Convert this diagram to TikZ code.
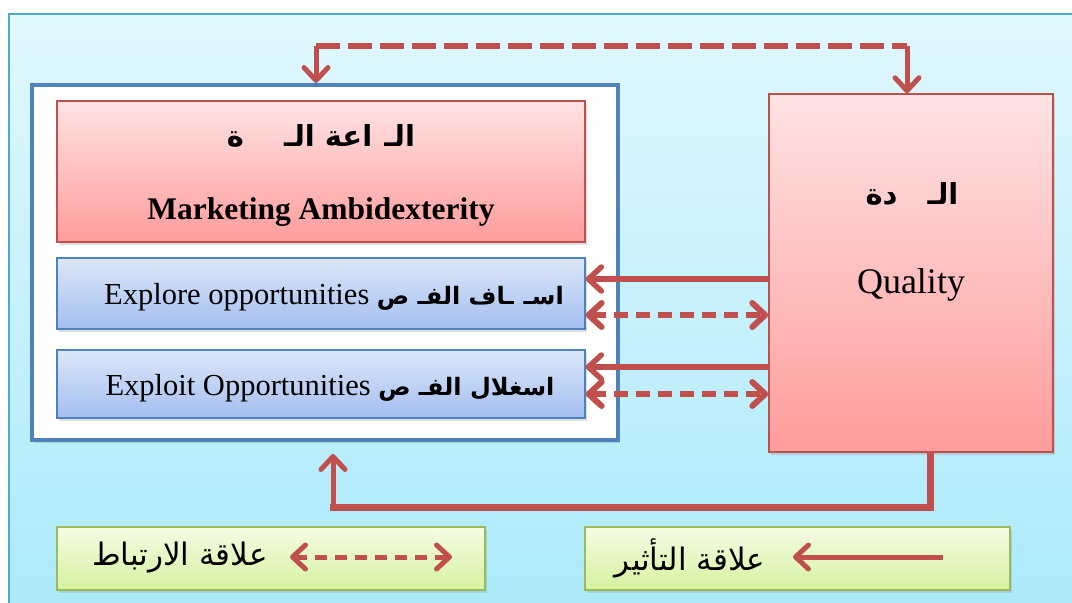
\documentclass[tikz,border=0pt]{standalone}
\usepackage{fontspec}
\setmainfont{Liberation Serif}
\newfontfamily\arabicfont[Script=Arabic]{DejaVu Sans}
\TeXXeTstate=1
\usetikzlibrary{arrows.meta,shadows,calc}
\definecolor{arrowred}{HTML}{C0504D}
\definecolor{blueline}{HTML}{4F81BD}
\definecolor{bgtop}{HTML}{E2F8FE}
\definecolor{bgbot}{HTML}{ACEAFA}
\definecolor{bgline}{HTML}{4BACC6}
\definecolor{redtop}{HTML}{FFE3E3}
\definecolor{redbot}{HTML}{FF9C9C}
\definecolor{bluetop}{HTML}{DCE7F9}
\definecolor{bluebot}{HTML}{A4BEF0}
\definecolor{greentop}{HTML}{F5FCE6}
\definecolor{greenbot}{HTML}{D5F29E}
\definecolor{greenline}{HTML}{9BBB59}
\tikzset{
  shad/.style={drop shadow={shadow xshift=2pt,shadow yshift=-3pt,opacity=0.25}},
  framebox/.style={draw=blueline,line width=4pt,fill=white,minimum width=586pt,minimum height=355pt,inner sep=0pt,shad},
  redbox/.style={draw=arrowred,line width=1.5pt,top color=redtop,bottom color=redbot,inner sep=0pt,shad},
  bluebox/.style={draw=blueline,line width=1.2pt,top color=bluetop,bottom color=bluebot,minimum width=528pt,inner sep=0pt,shad},
  greenbox/.style={draw=greenline,line width=2pt,top color=greentop,bottom color=greenbot,minimum height=63pt,inner sep=0pt,shad},
  tip/.style={arrows={-Straight Barb[length=13pt,width=24pt,line cap=round,line join=round]}},
  tips/.style={arrows={Straight Barb[length=13pt,width=24pt,line cap=round,line join=round]-Straight Barb[length=13pt,width=24pt,line cap=round,line join=round]}},
  solidcon/.style={draw=arrowred,line width=5.5pt},
  dashcon/.style={draw=arrowred,line width=6pt,dash pattern=on 14pt off 8pt},
  topdash/.style={draw=arrowred,line width=6.5pt,dash pattern=on 24pt off 8pt},
  engtxt/.style={font=\fontsize{30.5}{34}\selectfont,inner sep=0pt},
  arbold/.style={font=\arabicfont\bfseries\fontsize{29}{32}\selectfont,inner sep=0pt},
  arleg/.style={font=\arabicfont\fontsize{31}{36}\selectfont,inner sep=0pt},
}
\newcommand\arinline{\arabicfont\bfseries\fontsize{24}{30}\selectfont}
\begin{document}
\begin{tikzpicture}[x=1pt,y=-1pt]
\useasboundingbox (0,0) rectangle (1072,603);
\clip (0,0) rectangle (1072,603);
\path[top color=bgtop,bottom color=bgbot] (0,0) rectangle (1072,603);
\fill[white] (0,0) rectangle (1072,13);
\fill[white] (0,0) rectangle (8,603);
\draw[bgline,line width=2pt] (9,620) -- (9,14) -- (1090,14);

% main frame
\node[framebox] (frame) at (325,262.5) {};
\node[redbox,minimum width=528pt,minimum height=141pt] (mkt) at (321,171.5) {};
\node[bluebox,minimum height=71pt] (explore) at (321,293.5) {};
\node[bluebox,minimum height=68pt] (exploit) at (321,384) {};
\node[redbox,minimum width=284pt,minimum height=358pt] (quality) at (911,273) {};

% legend boxes
\node[greenbox,minimum width=428pt] (leg1) at (271,558.5) {};
\node[greenbox,minimum width=425pt] (leg2) at (797.5,558.5) {};

% texts
\node[arbold] (mktar) at (321,136) {\beginR الـ\hspace{12pt}اعة الـ\hspace{40pt}ة\endR};
\node[font=\bfseries\fontsize{31.5}{36}\selectfont,inner sep=0pt] (mkten) at (321,212) {Marketing Ambidexterity};
\node[arbold] (qar) at (912,194) {\beginR الـ\hspace{30pt}دة\endR};
\node[font=\fontsize{36}{40}\selectfont,inner sep=0pt] (qen) at (911,285) {Quality};
\node[engtxt] (exptxt) at (334,297) {Explore opportunities {\arinline\beginR اسـ\hspace{10pt}ـاف الفـ ص\endR}};
\node[engtxt] (exltxt) at (330,388) {Exploit Opportunities {\arinline\beginR اسغلال الفـ ص\endR}};
\node[arleg] (leg1txt) at (180,558) {\beginR علاقة الارتباط\endR};
\node[arleg] (leg2txt) at (690,558) {\beginR علاقة التأثير\endR};

% coordinates for connectors
\coordinate (tl) at (316,46);
\coordinate (tr) at (907,46);
\coordinate (r1) at (0,279);
\coordinate (r2) at (0,315);
\coordinate (r3) at (0,367);
\coordinate (r4) at (0,394);
\coordinate (bl) at (333,507);
\coordinate (br) at (930,507);

% top correlation connector
\draw[topdash] (tl) -- (tr);
\draw[solidcon,line width=5pt,tip] (tl) -- (tl |- frame.north);
\draw[solidcon,line width=5pt,tip] (tr) -- (tr |- quality.north);

% rows
\draw[solidcon,tip] (quality.west |- r1) -- (explore.east |- r1);
\draw[dashcon,tips] (explore.east |- r2) -- (quality.west |- r2);
\draw[solidcon,tip] (quality.west |- r3) -- (exploit.east |- r3);
\draw[dashcon,tips] (exploit.east |- r4) -- (quality.west |- r4);

% bottom influence connector
\draw[solidcon,line width=7pt,line join=miter] (br |- quality.south) -- (br) -- (bl) -- ++(0,-3);
\draw[solidcon,line width=5pt,tip,shorten >=12pt] (bl) -- (bl |- frame.south);

% legend arrows
\coordinate (l1a) at (290,557);
\coordinate (l1b) at (452,557);
\coordinate (l2a) at (943,557);
\coordinate (l2b) at (793,557);
\draw[dashcon,line width=5pt,dash pattern=on 12pt off 8pt,tips] (l1a) -- (l1b);
\draw[solidcon,line width=5pt,tip] (l2a) -- (l2b);
\end{tikzpicture}
\end{document}
